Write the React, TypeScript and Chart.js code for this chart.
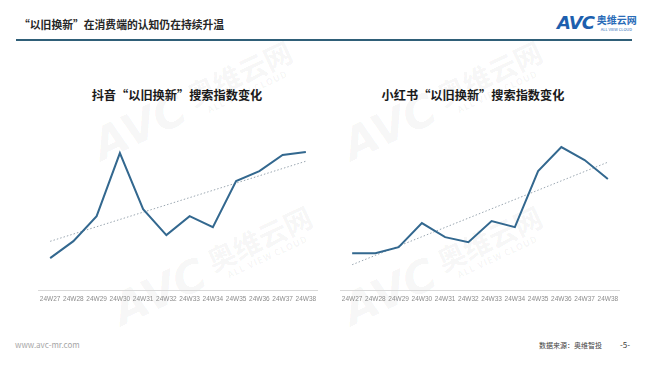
import React, { useEffect, useRef } from "react";
import { Chart, registerables } from "chart.js";

Chart.register(...registerables);

const weeks = ["24W27", "24W28", "24W29", "24W30", "24W31", "24W32", "24W33", "24W34", "24W35", "24W36", "24W37", "24W38"];
const douyinIndex = [32, 49, 74, 137, 81, 55, 74, 63, 109, 119, 135, 138];
const xhsIndex = [37, 37, 43, 67, 53, 48, 69, 63, 119, 143, 130, 111];

const titleMain = "“以旧换新”在消费端的认知仍在持续升温";
const titleLeft = "抖音“以旧换新”搜索指数变化";
const titleRight = "小红书“以旧换新”搜索指数变化";

function trend(values: number[]): number[] {
  const n = values.length;
  const mx = (n - 1) / 2;
  const my = values.reduce((a, b) => a + b, 0) / n;
  let sxy = 0, sxx = 0;
  values.forEach((v, i) => { sxy += (i - mx) * (v - my); sxx += (i - mx) * (i - mx); });
  const k = sxy / sxx;
  return values.map((_, i) => my + k * (i - mx));
}

const FONT = "'Noto Sans CJK SC', 'Noto Sans', sans-serif";

function LineChart({ values, left }: { values: number[]; left: number }) {
  const ref = useRef<HTMLCanvasElement | null>(null);
  useEffect(() => {
    if (!ref.current) return;
    const chart = new Chart(ref.current, {
      type: "line",
      data: {
        labels: weeks,
        datasets: [
          {
            data: values,
            borderColor: "#33688f",
            borderWidth: 2,
            pointRadius: 0,
            tension: 0,
            fill: false,
          },
          {
            data: trend(values),
            borderColor: "#9aa6b0",
            borderWidth: 1,
            borderDash: [1.5, 2],
            pointRadius: 0,
            fill: false,
          },
        ],
      },
      options: {
        animation: false,
        responsive: false,
        maintainAspectRatio: false,
        layout: { padding: 0 },
        plugins: { legend: { display: false }, tooltip: { enabled: false }, title: { display: false } },
        scales: {
          x: {
            offset: true,
            grid: { display: false, drawTicks: false },
            border: { display: true, color: "#d9d9d9", width: 1 },
            ticks: { color: "#8c8c8c", font: { size: 6.5, family: "'Liberation Sans Narrow', 'Liberation Sans', sans-serif" }, padding: 5, maxRotation: 0, autoSkip: false },
          },
          y: { display: false, min: 0, max: 170 },
        },
      },
    });
    return () => chart.destroy();
  }, [values]);
  return (
    <canvas
      ref={ref}
      width={286}
      height={188}
      style={{ position: "absolute", left, top: 120, width: 286, height: 188 }}
    />
  );
}

function Watermark({ x, y }: { x: number; y: number }) {
  return (
    <div
      style={{
        position: "absolute",
        left: x - 110,
        top: y - 30,
        width: 220,
        height: 60,
        transform: "rotate(-25deg)",
        color: "rgba(0,0,0,0.05)",
        fontFamily: FONT,
        display: "flex",
        alignItems: "center",
        whiteSpace: "nowrap",
      }}
    >
      <span style={{ fontSize: 44, fontWeight: 900, fontStyle: "italic", fontFamily: "'DejaVu Sans', sans-serif" }}>AVC</span>
      <span style={{ display: "flex", flexDirection: "column", marginLeft: 8 }}>
        <span style={{ fontSize: 28, fontWeight: 700, lineHeight: 1 }}>奥维云网</span>
        <span style={{ fontSize: 9, fontWeight: 700, letterSpacing: 1, marginLeft: 12 }}>ALL VIEW CLOUD</span>
      </span>
    </div>
  );
}

export default function App() {
  return (
    <div
      style={{
        position: "fixed",
        left: 0,
        top: 0,
        width: 647,
        height: 365,
        background: "#ffffff",
        overflow: "hidden",
        fontFamily: FONT,
      }}
    >
      <Watermark x={195} y={100} />
      <Watermark x={445} y={100} />
      <Watermark x={215} y={265} />
      <Watermark x={445} y={265} />

      <div style={{ position: "absolute", left: 19, top: 14, fontSize: 10.8, fontWeight: 700, color: "#262626", lineHeight: "20px", whiteSpace: "nowrap" }}>
        {titleMain}
      </div>
      <div style={{ position: "absolute", left: 16, top: 39, width: 616, height: 2, background: "#2f5f78" }} />

      <div style={{ position: "absolute", left: 557, top: 12, display: "flex", alignItems: "center", whiteSpace: "nowrap" }}>
        <span style={{ fontSize: 18, fontWeight: 900, fontStyle: "italic", color: "#1d5fae", fontFamily: "'DejaVu Sans', sans-serif", letterSpacing: -1 }}>AVC</span>
        <span style={{ display: "flex", flexDirection: "column", marginLeft: 3 }}>
          <span style={{ fontSize: 10, fontWeight: 700, color: "#2a6cb8", lineHeight: "12px" }}>奥维云网</span>
          <span style={{ fontSize: 4, color: "#2a6cb8", lineHeight: "6px", marginLeft: 4 }}>ALL VIEW CLOUD</span>
        </span>
      </div>

      <div style={{ position: "absolute", left: 77, width: 200, top: 86, textAlign: "center", fontSize: 12.2, fontWeight: 700, color: "#1a1a1a", lineHeight: "18px" }}>
        {titleLeft}
      </div>
      <div style={{ position: "absolute", left: 373, width: 200, top: 86, textAlign: "center", fontSize: 12.2, fontWeight: 700, color: "#1a1a1a", lineHeight: "18px" }}>
        {titleRight}
      </div>

      <LineChart values={douyinIndex} left={35} />
      <LineChart values={xhsIndex} left={337} />

      <div style={{ position: "absolute", left: 15, top: 339, fontSize: 8, color: "#a6a6a6", lineHeight: "12px" }}>www.avc-mr.com</div>
      <div style={{ position: "absolute", left: 539, top: 340, fontSize: 7, color: "#404040", lineHeight: "10px", whiteSpace: "nowrap" }}>数据来源：奥维智投</div>
      <div style={{ position: "absolute", left: 620, top: 339, fontSize: 8, color: "#404040", lineHeight: "12px" }}>-5-</div>
    </div>
  );
}
